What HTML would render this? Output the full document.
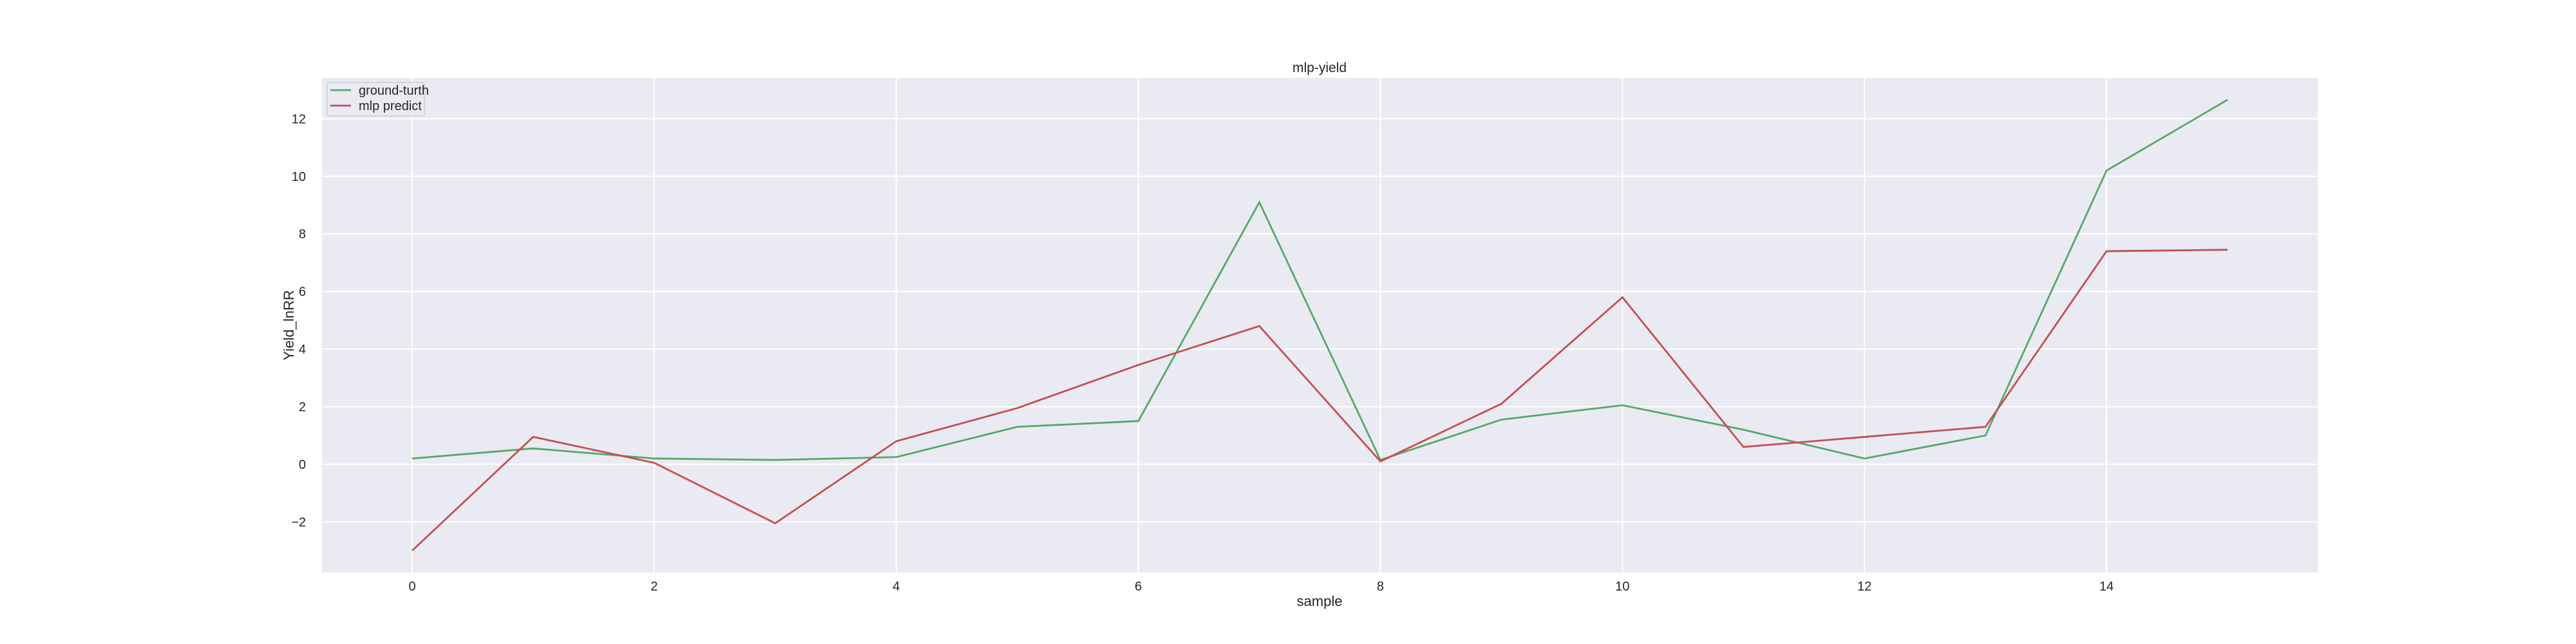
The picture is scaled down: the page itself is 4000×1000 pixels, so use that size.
<!DOCTYPE html>
<html><head><meta charset="utf-8"><style>
html,body{margin:0;padding:0;background:#fff;}
svg{display:block;font-family:"Liberation Sans","Noto Sans CJK SC",sans-serif;}
</style></head><body>
<svg id="chart" width="4000" height="1000"></svg>
<script>
const categories=[0,1,2,3,4,5,6,7,8,9,10,11,12,13,14,15];
const groundTruth=[0.2,0.55,0.2,0.15,0.25,1.3,1.5,9.1,0.15,1.55,2.05,1.2,0.2,1.0,10.2,12.66];
const mlpPredict=[-3.0,0.95,0.05,-2.05,0.8,1.95,3.45,4.8,0.1,2.1,5.8,0.6,0.95,1.3,7.4,7.45];
const xTicks=[0,2,4,6,8,10,12,14];
const yTicks=[-2,0,2,4,6,8,10,12];
const NS='http://www.w3.org/2000/svg';
const svg=document.getElementById('chart');
const L=500,T=121,R=3599,B=889;
function xs(v){return 640+v*187.93;}
function ys(v){return 720.9-v*44.71;}
function mk(tag,attrs,parent){const e=document.createElementNS(NS,tag);for(const k in attrs)e.setAttribute(k,attrs[k]);(parent||svg).appendChild(e);return e;}
const bg=mk('rect',{x:L,y:T,width:R-L,height:B-T,fill:'#eaeaf2'});


xTicks.forEach(t=>{
  const g=mk('line',{x1:xs(t),x2:xs(t),y1:T,y2:B,stroke:'#fff','stroke-width':2});
  
  
  const tx=mk('text',{x:xs(t),y:917,'text-anchor':'middle','font-size':20,fill:'#262626'});
  tx.textContent=t;
  
  
});
yTicks.forEach(t=>{
  const g=mk('line',{x1:L,x2:R,y1:ys(t),y2:ys(t),stroke:'#fff','stroke-width':2});
  
  
  const tx=mk('text',{x:475,y:ys(t)+7,'text-anchor':'end','font-size':20,fill:'#262626'});
  tx.textContent=t<0?'\u2212'+(-t):t;
  
  
});
function series(vals,color,name){
  const p=mk('polyline',{points:vals.map((v,i)=>xs(categories[i])+','+ys(v)).join(' '),fill:'none',stroke:color,'stroke-width':2.8});
  
  
}
series(groundTruth,'#55a868','ground-truth-line');
series(mlpPredict,'#c44e52','mlp-predict-line');
const title=mk('text',{x:2049,y:112,'text-anchor':'middle','font-size':21,fill:'#262626'});
title.textContent='mlp-yield';


const xl=mk('text',{x:2049,y:941,'text-anchor':'middle','font-size':22,fill:'#262626'});
xl.textContent='sample';


const yl=mk('text',{x:0,y:0,'text-anchor':'middle','font-size':22,fill:'#262626',transform:'translate(456,505) rotate(-90)'});
yl.textContent='Yield_lnRR';


const lg=mk('g',{});


mk('rect',{x:508,y:128,width:151,height:52,rx:4,fill:'#eaeaf2','fill-opacity':0.8,stroke:'#cccccc','stroke-width':1.5},lg);
[['ground-turth','#55a868',140],['mlp predict','#c44e52',164]].forEach(([n,c,y])=>{
  const e=mk('g',{},lg);
  
  
  mk('line',{x1:513,x2:545,y1:y,y2:y,stroke:c,'stroke-width':2.8},e);
  const t=mk('text',{x:557,y:y+7,'font-size':20,fill:'#262626'},e);
  t.textContent=n;
});
</script>
</body></html>
